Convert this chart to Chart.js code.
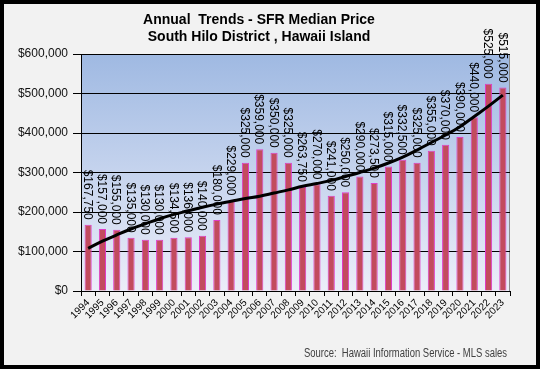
<!DOCTYPE html>
<html>
<head>
<meta charset="utf-8">
<script src="https://cdn.jsdelivr.net/npm/chart.js@4.4.1/dist/chart.umd.min.js"></script>
<style>
    html, body { margin: 0; padding: 0; background: #f2f2f2; }
    canvas { display: block; }
</style>
</head>
<body>
<canvas id="trendChart" width="540" height="369"></canvas>
<script>
// ===== 数据 =====
const years = ['1994', '1995', '1996', '1997', '1998', '1999', '2000', '2001', '2002', '2003',
    '2004', '2005', '2006', '2007', '2008', '2009', '2010', '2011', '2012', '2013',
    '2014', '2015', '2016', '2017', '2018', '2019', '2020', '2021', '2022', '2023'];
const medianPrice = [167750, 157000, 155000, 135000, 130000, 130000, 134500, 136000, 140000, 180000,
    229000, 325000, 359000, 350000, 325000, 263750, 270000, 241000, 250000, 290000,
    273500, 315000, 332500, 325000, 355000, 370000, 390000, 440000, 525000, 515000];
// trendline
const trendPrice = [108000, 126000, 142000, 157000, 170000, 183000, 194000, 203000, 212000, 220000,
    227000, 234000, 240000, 248000, 256000, 265000, 272000, 280000, 290000, 300000,
    311000, 324000, 339000, 357000, 376000, 395000, 416000, 442000, 468000, 496000];
const yTicks = [0, 100000, 200000, 300000, 400000, 500000, 600000];
const titleLines = ['Annual  Trends - SFR Median Price', 'South Hilo District , Hawaii Island'];
const sourceText = 'Source:  Hawaii Information Service - MLS sales';

function money(v) {
    return '$' + v.toLocaleString('en-US');
}

// 背景、边框、标题
const framePlugin = {
    id: 'frame',
    beforeDraw(chart) {
        const ctx = chart.ctx;
        const a = chart.chartArea;
        ctx.save();
        ctx.fillStyle = '#f2f2f2';
        ctx.fillRect(0, 0, chart.width, chart.height);
        const g = ctx.createLinearGradient(0, a.top, 0, a.bottom);
        g.addColorStop(0, '#9fb9e2');
        g.addColorStop(1, '#eceef9');
        ctx.fillStyle = g;
        ctx.fillRect(a.left, a.top, a.right - a.left, a.bottom - a.top);
        ctx.strokeStyle = '#8c8c8c';
        ctx.lineWidth = 1;
        ctx.beginPath();
        ctx.moveTo(a.left, a.top + 0.5);
        ctx.lineTo(a.right - 0.5, a.top + 0.5);
        ctx.lineTo(a.right - 0.5, a.bottom);
        ctx.stroke();
        ctx.restore();
    },
    afterDatasetDraw(chart, args) {
        if (args.index !== 0) return;
        const ctx = chart.ctx;
        ctx.save();
        ctx.font = '12px Arial, "Liberation Sans", sans-serif';
        ctx.fillStyle = '#000';
        ctx.textAlign = 'right';
        ctx.textBaseline = 'middle';
        args.meta.data.forEach((bar, i) => {
            ctx.save();
            ctx.translate(bar.x - 1, bar.y - 5);
            ctx.rotate(Math.PI / 2);
            ctx.fillText(money(medianPrice[i]), 0, 0);
            ctx.restore();
        });
        ctx.restore();
    },
    afterDraw(chart) {
        const ctx = chart.ctx;
        ctx.save();
        ctx.fillStyle = '#000';
        ctx.textAlign = 'center';
        ctx.textBaseline = 'middle';
        ctx.font = 'bold 14px Arial, "Liberation Sans", sans-serif';
        ctx.fillText(titleLines[0], 259, 20);
        ctx.fillText(titleLines[1], 259, 37);

        // 来源 (窄字体, 按宽度压缩)
        ctx.fillStyle = '#404040';
        ctx.textAlign = 'right';
        ctx.font = '12px Arial, "Liberation Sans", sans-serif';
        const w = ctx.measureText(sourceText).width;
        ctx.translate(507, 354);
        ctx.scale(203 / w, 1);
        ctx.fillText(sourceText, 0, 0);
        ctx.restore();

        ctx.save();
        ctx.strokeStyle = '#000';
        ctx.lineWidth = 4;
        ctx.strokeRect(2, 2, chart.width - 4, chart.height - 4);
        ctx.restore();
    }
};

new Chart(document.getElementById('trendChart'), {
    type: 'bar',
    data: {
        labels: years,
        datasets: [{
            label: 'Median Price',
            data: medianPrice,
            backgroundColor: '#c24b5e',
            borderColor: '#e03cc8',
            borderWidth: 1,
            barPercentage: 0.5,
            categoryPercentage: 1,
            order: 1
        }, {
            type: 'line',
            label: 'Trend',
            data: trendPrice,
            borderColor: '#000',
            borderWidth: 3,
            tension: 0.4,
            pointRadius: 0,
            fill: false,
            order: 0
        }]
    },
    options: {
        responsive: false,
        animation: false,
        layout: { padding: { left: 0, top: 54, right: 30, bottom: 0 } },
        plugins: {
            legend: { display: false },
            tooltip: { enabled: false },
            title: { display: false }
        },
        scales: {
            x: {
                offset: true,
                grid: {
                    offset: true,
                    drawOnChartArea: false,
                    drawTicks: true,
                    tickLength: 5,
                    color: '#000'
                },
                border: { color: '#000', width: 1 },
                ticks: {
                    minRotation: 45,
                    maxRotation: 45,
                    autoSkip: false,
                    padding: 1,
                    color: '#000',
                    font: { family: 'Arial, "Liberation Sans", sans-serif', size: 10 }
                },
                afterFit(scale) {
                    scale.height = 78;
                    scale.paddingLeft = 0;
                    scale.paddingRight = 0;
                }
            },
            y: {
                min: 0,
                max: 600000,
                afterBuildTicks(scale) {
                    scale.ticks = yTicks.map(v => ({ value: v }));
                },
                grid: {
                    color: '#000',
                    lineWidth: 1,
                    tickLength: 8
                },
                border: { color: '#000', width: 1 },
                ticks: {
                    padding: 5,
                    color: '#111',
                    font: { family: 'Arial, "Liberation Sans", sans-serif', size: 12 },
                    callback: v => money(v)
                },
                afterFit(scale) {
                    scale.width = 81;
                }
            }
        }
    },
    plugins: [framePlugin]
});
</script>
</body>
</html>
